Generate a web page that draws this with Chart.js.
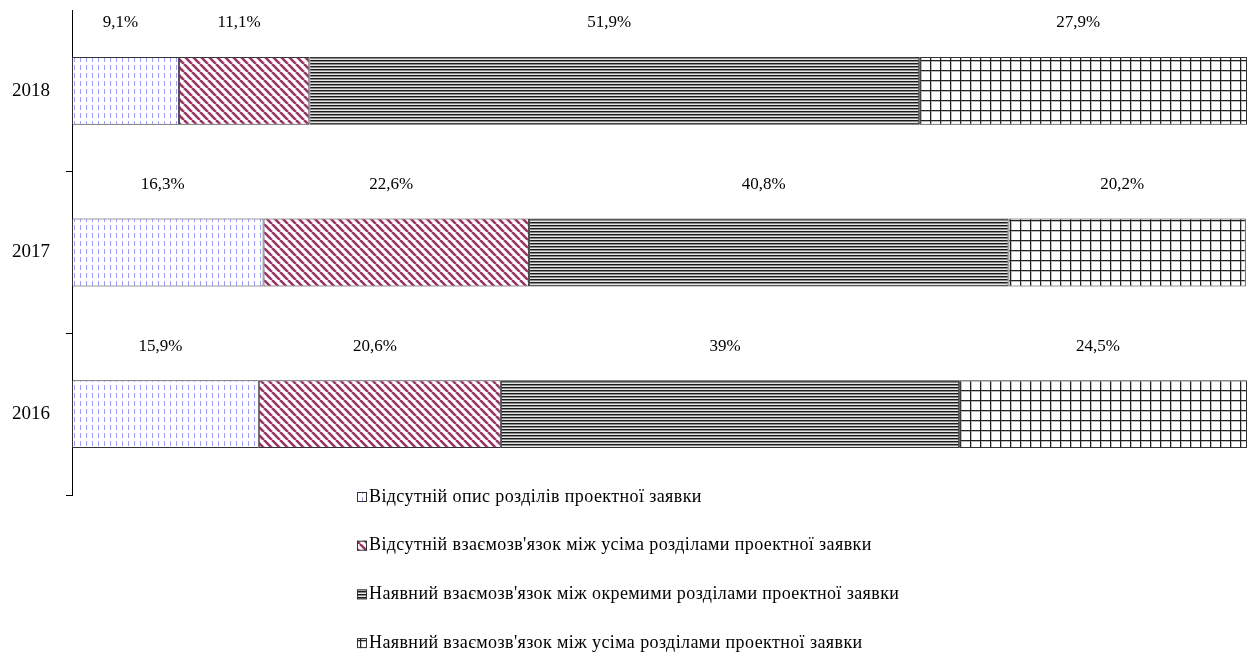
<!DOCTYPE html>
<html>
<head>
<meta charset="utf-8">
<script src="https://cdn.jsdelivr.net/npm/chart.js@4"></script>
<style>
  html, body { margin: 0; padding: 0; background: #fff; }
  #wrap { width: 1253px; height: 652px; }
</style>
</head>
<body>
<div id="wrap"><canvas id="projectChart"></canvas></div>
<script>
const years = ['2018', '2017', '2016'];
const seriesNames = [
    'Відсутній опис розділів проектної заявки',
    'Відсутній взаємозв\'язок між усіма розділами проектної заявки',
    'Наявний взаємозв\'язок між окремими розділами проектної заявки',
    'Наявний взаємозв\'язок між усіма розділами проектної заявки'
];
const noDescription = [9.1, 16.3, 15.9];
const noLinkAll = [11.1, 22.6, 20.6];
const linkSome = [51.9, 40.8, 39];
const linkAll = [27.9, 20.2, 24.5];

const serif = '"Liberation Serif", "Times New Roman", serif';

// small tiles for the hatch fills
const makePattern = (w, h, draw) => {
    const c = document.createElement('canvas');
    c.width = w;
    c.height = h;
    const g = c.getContext('2d');
    g.fillStyle = '#fff';
    g.fillRect(0, 0, w, h);
    draw(g);
    return g.createPattern(c, 'repeat');
};

const dashFill = makePattern(6, 8, (g) => {
    g.fillStyle = '#9c9cff';
    g.fillRect(2, 1, 1, 5);
});

const diagFill = makePattern(8, 8, (g) => {
    g.strokeStyle = '#993366';
    g.lineWidth = 2.6;
    [-8, 0, 8].forEach((o) => {
        g.beginPath();
        g.moveTo(o, 0);
        g.lineTo(o + 8, 8);
        g.stroke();
    });
});

const stripeFill = makePattern(4, 3, (g) => {
    g.fillStyle = '#1a1a1a';
    g.fillRect(0, 0, 4, 1);
    g.fillStyle = '#8a8a8a';
    g.fillRect(0, 1, 4, 1);
    g.fillStyle = '#e6e6e6';
    g.fillRect(0, 2, 4, 1);
});

const gridFill = makePattern(10, 10, (g) => {
    g.fillStyle = '#bbb';
    g.fillRect(1, 0, 1, 10);
    g.fillRect(0, 1, 10, 1);
    g.fillStyle = '#222';
    g.fillRect(0, 0, 1, 10);
    g.fillRect(0, 0, 10, 1);
});

const fills = [dashFill, diagFill, stripeFill, gridFill];
const values = [noDescription, noLinkAll, linkSome, linkAll];

const fmt = (v) => String(v).replace('.', ',') + '%';

const valueLabels = {
    id: 'valueLabels',
    afterDatasetsDraw(chart) {
        const ctx = chart.ctx;
        ctx.save();
        ctx.font = '17px ' + serif;
        ctx.fillStyle = '#000';
        ctx.textAlign = 'center';
        ctx.textBaseline = 'middle';
        chart.data.datasets.forEach((ds, i) => {
            chart.getDatasetMeta(i).data.forEach((bar, j) => {
                const p = bar.getProps(['x', 'y', 'base', 'height'], true);
                const cx = (p.x + p.base) / 2 - 5;
                const cy = p.y - p.height / 2 - 34;
                ctx.fillText(fmt(ds.data[j]), cx, cy);
            });
        });
        ctx.restore();
    }
};

const listLegend = {
    id: 'listLegend',
    afterDraw(chart) {
        const ctx = chart.ctx;
        const top = chart.chartArea.bottom + 2;
        ctx.save();
        ctx.font = '18px ' + serif;
        ctx.letterSpacing = '0.4px';
        ctx.textBaseline = 'middle';
        chart.data.datasets.forEach((ds, i) => {
            const y = top + i * 48.7;
            ctx.fillStyle = ds.backgroundColor;
            ctx.fillRect(357, y - 5, 10, 10);
            ctx.strokeStyle = '#333';
            ctx.lineWidth = 1;
            ctx.strokeRect(357.5, y - 4.5, 9, 9);
            ctx.fillStyle = '#000';
            ctx.fillText(ds.label, 369, y);
        });
        ctx.restore();
    }
};

new Chart(document.getElementById('projectChart'), {
    type: 'bar',
    data: {
        labels: years,
        datasets: seriesNames.map((name, i) => ({
            label: name,
            data: values[i],
            backgroundColor: fills[i],
            borderColor: '#333',
            borderWidth: 1,
            borderSkipped: false,
            barPercentage: 0.42,
            categoryPercentage: 1
        }))
    },
    options: {
        indexAxis: 'y',
        responsive: true,
        maintainAspectRatio: false,
        animation: false,
        layout: {
            padding: { top: 10, right: 6, bottom: 157, left: 0 }
        },
        plugins: {
            legend: { display: false },
            tooltip: { enabled: false }
        },
        scales: {
            x: {
                stacked: true,
                min: 0,
                max: 100,
                display: false
            },
            y: {
                stacked: true,
                afterFit: (scale) => {
                    scale.width = 72;
                    scale.paddingTop = 0;
                    scale.paddingBottom = 0;
                },
                border: { display: true, color: '#000', width: 1 },
                grid: {
                    drawOnChartArea: false,
                    tickLength: 6,
                    color: (c) => c.index === 0 ? 'rgba(0,0,0,0)' : '#000'
                },
                ticks: {
                    padding: 16,
                    color: '#000',
                    font: { family: serif, size: 19 }
                }
            }
        }
    },
    plugins: [valueLabels, listLegend]
});
</script>
</body>
</html>
